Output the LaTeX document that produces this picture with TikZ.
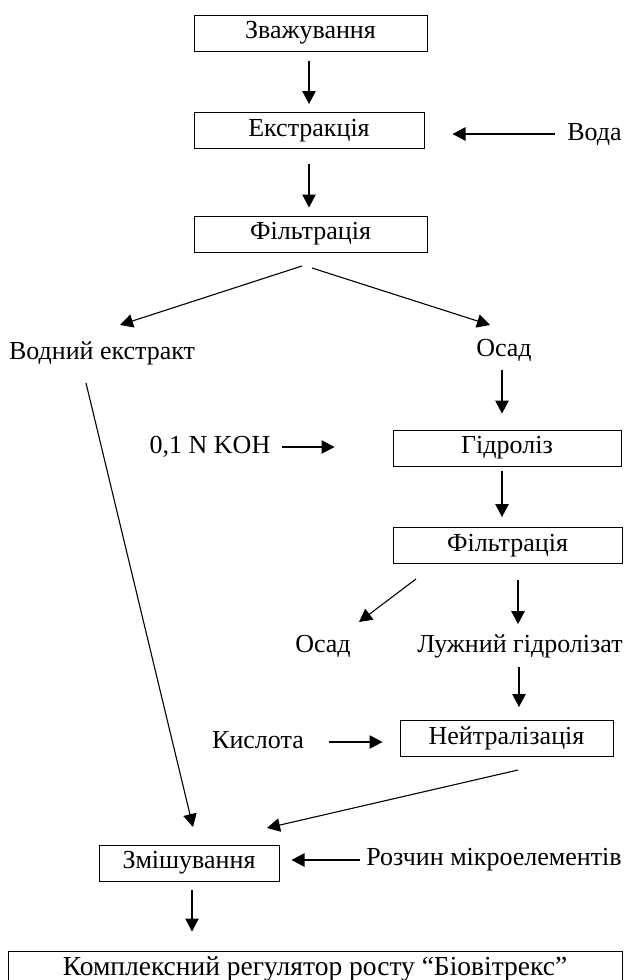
\documentclass[tikz,border=0pt]{standalone}
\usepackage{fontspec}
\setmainfont{Liberation Serif}
\usetikzlibrary{arrows.meta}
\tikzset{
	stage/.style={draw, line width=1pt, inner sep=0pt, minimum height=36pt, font=\fontsize{26}{30}\selectfont},
	word/.style={inner sep=0pt, font=\fontsize{26}{30}\selectfont},
	arr/.style={-{Triangle[length=13pt,width=13.5pt]}, line width=1.1pt},
}
\begin{document}
\begin{tikzpicture}[x=1pt,y=-1pt]
				\useasboundingbox (0,0) rectangle (626,980);
				\node [stage, minimum width=233pt] (zv) at (310.5,33) {Зважування};
				\node [stage, minimum width=230pt] (ek) at (309,130.5) {Екстракція};
				\node [word] (voda) at (594.5,134) {Вода};
				\node [stage, minimum width=233pt] (fa) at (310.5,234) {Фільтрація};
				\node [word] (vext) at (102,353) {Водний екстракт};
				\node [word] (osa) at (504,350) {Осад};
				\node [word] (koh) at (210,447) {0,1 N KOH};
				\node [stage, minimum width=228pt] (gid) at (507,448) {Гідроліз};
				\node [stage, minimum width=229pt] (fb) at (507.5,545.5) {Фільтрація};
				\node [word] (osb) at (323,646) {Осад};
				\node [word] (luzh) at (520,646) {Лужний гідролізат};
				\node [word] (kysl) at (258,740) {Кислота};
				\node [stage, minimum width=213pt] (neit) at (506.5,738.5) {Нейтралізація};
				\node [stage, minimum width=180pt] (zm) at (189,863) {Змішування};
				\node [word] (rozch) at (494,860) {Розчин мікроелементів};
				\node [stage, minimum width=614pt, font=\fontsize{27.5}{30}\selectfont] (kompl) at (315,969) {Комплексний регулятор росту “Біовітрекс”};
				\coordinate (fal) at (302,266);
				\coordinate (far) at (312,268);
				\coordinate (vexl) at (120,325);
				\coordinate (osar) at (490,325);
				\coordinate (vexd) at (86,383);
				\coordinate (zmu) at (193,827);
				\coordinate (fbl) at (416,579);
				\coordinate (osbr) at (359,622);
				\coordinate (neid) at (518,770);
				\coordinate (zmr) at (267,828);
				\draw [arr, shorten <=9pt, shorten >=8pt] (zv.south -| 309,0) -- (ek.north -| 309,0);
				\draw [arr, shorten <=15pt, shorten >=8pt] (ek.south -| 309,0) -- (fa.north -| 309,0);
				\draw [arr, shorten <=12pt, shorten >=28pt] (voda.west) -- (voda.west -| ek.east);
				\draw [arr] (fal) -- (vexl);
				\draw [arr] (far) -- (osar);
				\draw [arr] (vexd) -- (zmu);
				\draw [arr, shorten <=9pt, shorten >=16pt] (osa.south -| 502,0) -- (gid.north -| 502,0);
				\draw [arr, shorten <=11pt, shorten >=58pt] (koh.east) -- (koh.east -| gid.west);
				\draw [arr, shorten <=4pt, shorten >=10pt] (gid.south -| 502,0) -- (fb.north -| 502,0);
				\draw [arr] (fbl) -- (osbr);
				\draw [arr, shorten <=16pt, shorten >=10pt] (fb.south -| 518,0) -- (luzh.north -| 518,0);
				\draw [arr, shorten <=9pt, shorten >=13pt] (luzh.south -| 519,0) -- (neit.north -| 519,0);
				\draw [arr, shorten <=25pt, shorten >=17pt] ([yshift=-2pt]kysl.east) -- ([yshift=-2pt]kysl.east -| neit.west);
				\draw [arr] (neid) -- (zmr);
				\draw [arr, shorten <=6pt, shorten >=12pt] (rozch.west) -- (rozch.west -| zm.east);
				\draw [arr, shorten <=8pt, shorten >=19pt] (zm.south -| 192,0) -- (kompl.north -| 192,0);
			\end{tikzpicture}
\end{document}
